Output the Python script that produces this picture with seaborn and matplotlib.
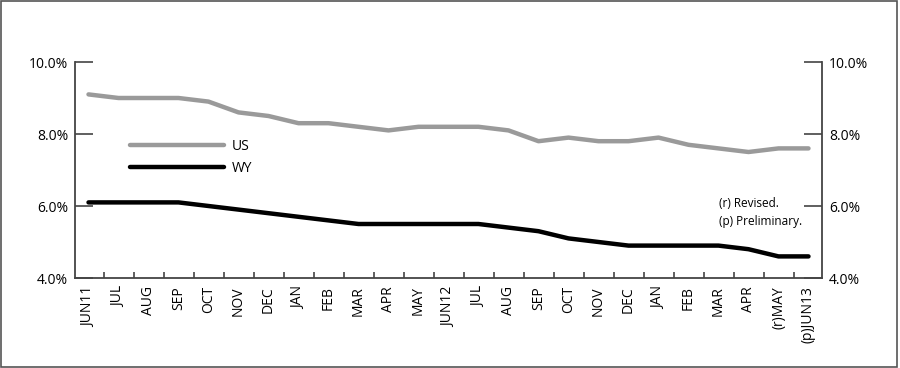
import pandas as pd
import matplotlib.pyplot as plt
import seaborn as sns
from matplotlib.patches import Rectangle

# Monthly unemployment rates, June 2011 - June 2013
months = ['JUN11', 'JUL', 'AUG', 'SEP', 'OCT', 'NOV', 'DEC', 'JAN', 'FEB', 'MAR', 'APR', 'MAY',
          'JUN12', 'JUL', 'AUG', 'SEP', 'OCT', 'NOV', 'DEC', 'JAN', 'FEB', 'MAR', 'APR', '(r)MAY', '(p)JUN13']
us_rate = [9.1, 9.0, 9.0, 9.0, 8.9, 8.6, 8.5, 8.3, 8.3, 8.2, 8.1, 8.2,
           8.2, 8.2, 8.1, 7.8, 7.9, 7.8, 7.8, 7.9, 7.7, 7.6, 7.5, 7.6, 7.6]
wy_rate = [6.1, 6.1, 6.1, 6.1, 6.0, 5.9, 5.8, 5.7, 5.6, 5.5, 5.5, 5.5,
           5.5, 5.5, 5.4, 5.3, 5.1, 5.0, 4.9, 4.9, 4.9, 4.9, 4.8, 4.6, 4.6]
y_ticks = [4.0, 6.0, 8.0, 10.0]

sns.set_style('white')
plt.rcParams['font.family'] = ['Open Sans', 'DejaVu Sans']
plt.rcParams['text.color'] = 'black'
plt.rcParams['xtick.labelcolor'] = 'black'
plt.rcParams['ytick.labelcolor'] = 'black'

df = pd.DataFrame({'pos': list(range(len(months))) * 2,
                   'rate': us_rate + wy_rate,
                   'area': ['US'] * len(months) + ['WY'] * len(months)})

fig = plt.figure(figsize=(9, 3.68), dpi=100)
ax = fig.add_axes([75 / 900, 1 - 278 / 368, (822 - 75) / 900, (278 - 62) / 368])

sns.lineplot(data=df, x='pos', y='rate', hue='area', palette={'US': '#9a9a9a', 'WY': '#000000'},
             linewidth=3.2, ax=ax)

ax.set_xlim(-0.45, len(months) - 0.55)
ax.set_ylim(4, 10)
ax.set_xlabel('')
ax.set_ylabel('')

ax.set_xticks(range(len(months)))
ax.set_xticklabels(months, rotation=90, fontsize=10)
ax.set_xticks([i + 0.5 for i in range(len(months) - 1)], minor=True)
ax.tick_params(axis='x', which='major', length=0, pad=6)
ax.tick_params(axis='x', which='minor', direction='in', length=4, width=1.2, color='#444444', bottom=True)

ax.set_yticks(y_ticks)
ax.set_yticklabels([f'{v:.1f}%' for v in y_ticks], fontsize=10)
ax.tick_params(axis='y', direction='in', length=13, width=1.2, color='#444444',
               left=True, right=True, labelleft=True, labelright=True, pad=5)

for side in ['left', 'right', 'bottom']:
    ax.spines[side].set_color('#444444')
    ax.spines[side].set_linewidth(1.3)
ax.spines['top'].set_visible(False)

ax.legend(loc='upper left', bbox_to_anchor=(0.065, 0.675), frameon=False, fontsize=10,
          handlelength=6.7, handletextpad=0.6, labelspacing=0.5, borderpad=0)

ax.text(0.862, 0.305, '(r) Revised.\n(p) Preliminary.', transform=ax.transAxes,
        fontsize=8.5, va='center', ha='left', linespacing=1.5)

fig.patches.append(Rectangle((0.001, 0.002), 0.996, 0.996, transform=fig.transFigure,
                             fill=False, edgecolor='#555555', linewidth=1.2))

plt.savefig('out.png', dpi=100)
